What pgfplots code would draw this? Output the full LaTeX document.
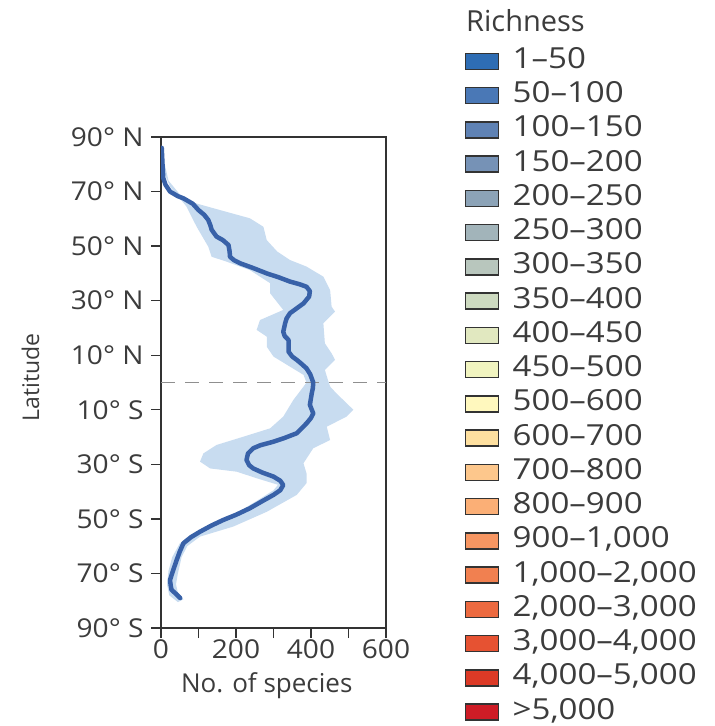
\documentclass[border=0pt]{standalone}
\usepackage{pgfplots}
\pgfplotsset{compat=1.18}
\usepackage{fontspec}
\setmainfont{Open Sans}
\newfontfamily\widefont[FakeStretch=1.14]{Open Sans}
\newfontfamily\tickfont[FakeStretch=1.08]{Open Sans}
\definecolor{txt}{HTML}{3C3C3C}
\definecolor{axc}{HTML}{333333}
\definecolor{lineblue}{HTML}{3861A8}
\definecolor{band}{HTML}{C8DCF0}
\definecolor{c1}{HTML}{2E6DB4}
\definecolor{c2}{HTML}{4A78B6}
\definecolor{c3}{HTML}{5F82B4}
\definecolor{c4}{HTML}{7692B6}
\definecolor{c5}{HTML}{8CA3B7}
\definecolor{c6}{HTML}{A2B4BA}
\definecolor{c7}{HTML}{B8C6BD}
\definecolor{c8}{HTML}{CDDAC0}
\definecolor{c9}{HTML}{E1E8C0}
\definecolor{c10}{HTML}{F1F4C0}
\definecolor{c11}{HTML}{FFF8BE}
\definecolor{c12}{HTML}{FEE0A0}
\definecolor{c13}{HTML}{FDC78C}
\definecolor{c14}{HTML}{FBAF76}
\definecolor{c15}{HTML}{F79662}
\definecolor{c16}{HTML}{F18050}
\definecolor{c17}{HTML}{EC6A40}
\definecolor{c18}{HTML}{E65232}
\definecolor{c19}{HTML}{DC3A26}
\definecolor{c20}{HTML}{CE1C26}
\begin{document}
\begin{tikzpicture}
\useasboundingbox (0,0) rectangle (715bp,-726bp);
\begin{axis}[
  at={(161bp,-628bp)}, anchor=south west,
  scale only axis, width=225bp, height=491bp,
  xmin=0, xmax=600, ymin=-90, ymax=90,
  xtick={0,100,...,600}, xticklabels={0,,200,,400,,600},
  ytick={-90,-70,-50,-30,-10,10,30,50,70,90},
  yticklabels={90° S,70° S,50° S,30° S,10° S,10° N,30° N,50° N,70° N,90° N},
  tick align=outside, xtick pos=bottom, ytick pos=left,
  major tick length=10bp,
  every tick/.style={axc, line width=1.3bp},
  axis line style={axc, line width=1.3bp},
  tick label style={font=\tickfont\fontsize{26bp}{30bp}\selectfont, text=txt},
  yticklabel style={xshift=-4bp},
  xticklabel style={yshift=2bp},
  /pgf/number format/assume math mode=true,
  xlabel={No. of species}, ylabel={Latitude},
  label style={font=\fontsize{26bp}{30bp}\selectfont, text=txt},
  xlabel style={at={(axis description cs:0.47,0)}, anchor=base, yshift=-64bp},
  ylabel style={at={(axis description cs:-0.58,0.511)}, anchor=center, font=\fontsize{23bp}{28bp}\selectfont},
]
\addplot[draw=none, fill=band] coordinates {
(3,87) (10,80) (20,74) (50,69) (77,66.3) (150,63.5) (237,60.2) (273,57.1)
(282,52.2) (310,48) (344,44.9) (388,42.5) (433,38.8) (451,33.9) (455,27.8)
(464,26) (433,21.7) (437,14.4) (455,10.7) (464,8.3) (437,4.6) (445,1)
(451,-1.5) (468,-4) (513,-10) (495,-12.5) (442,-16.2) (451,-21.1) (406,-24.1)
(380,-29.6) (388,-33.3) (388,-36.9) (362,-41.2) (282,-47.4) (193,-52.8)
(104,-56.5) (70,-60) (55,-64) (45,-70) (40,-74) (45,-77) (60,-79.5)
(45,-80.5) (22,-78) (16,-74) (20,-69) (30,-64) (50,-59) (75,-56.5) (100,-55)
(150,-51) (200,-48) (260,-43) (300,-39.5) (312,-37.5) (255,-35.1) (202,-32.7)
(131,-31.5) (104,-29) (113,-26) (148,-22.9) (219,-19.9) (291,-16.8)
(326,-12.5) (353,-6.4) (380,-1.5) (388,0) (380,2.8) (344,5.8) (300,9.5)
(282,13.1) (282,16.8) (255,19.3) (264,22.9) (326,26.6) (291,32.7) (291,36.4)
(237,41.2) (175,44.3) (135,46.1) (126,49.8) (95,57.1) (68,64.5) (24,71.8)
(5,78) (1,86)
} -- cycle;
\addplot[axc!55, dash pattern=on 14bp off 10bp, line width=1.3bp] coordinates {(0,0) (600,0)};
\addplot[lineblue, line width=4.5bp, line join=round, line cap=round] coordinates {
(2,86) (4,80) (6,75) (12,72.5) (24,70) (45,68.3) (60,67.5) (85,65.5)
(100,63.2) (115,61.5) (126,59.6) (132,57.5) (135,56) (148,53.5) (165,52.2)
(180,50.4) (183,48) (184,46.1) (195,44.8) (211,43.7) (245,42) (282,40)
(315,38.5) (344,37) (370,36) (388,35.1) (397,33.5) (395,31.5) (380,29)
(360,27) (344,25.4) (335,23.5) (331,21.7) (326,18.6) (330,17) (340,15.6)
(340,11.3) (350,9.5) (362,8.3) (375,6.8) (388,5.2) (398,3) (406,0)
(405,-2) (402,-4) (397,-8.2) (406,-11.3) (400,-13) (388,-15) (362,-18.6)
(330,-20.3) (300,-21.7) (265,-23) (246,-24.1) (232,-26) (228,-28.4)
(235,-30.3) (246,-31.5) (270,-33) (300,-34.5) (318,-36) (326,-37.6)
(318,-39.5) (300,-41.2) (270,-43.5) (237,-46.1) (200,-48.5) (166,-50.4)
(135,-52.4) (104,-54.7) (80,-56.7) (60,-58.9) (50,-62) (42,-65) (32,-69)
(24,-72.4) (26,-74.5) (28,-76) (40,-77.5) (51,-79)
};
\end{axis}
\begin{scope}[x=1bp,y=1bp]
\node[anchor=base west, inner sep=0pt, text=txt, font=\fontsize{29bp}{34bp}\selectfont] at (466,-31.7) {Richness};
\foreach \c/\l [count=\i] in {c1/{1–50},c2/{50–100},c3/{100–150},c4/{150–200},c5/{200–250},c6/{250–300},c7/{300–350},c8/{350–400},c9/{400–450},c10/{450–500},c11/{500–600},c12/{600–700},c13/{700–800},c14/{800–900},c15/{900–1,000},c16/{1,000–2,000},c17/{2,000–3,000},c18/{3,000–4,000},c19/{4,000–5,000},c20/{>5,000}}{
  \pgfmathsetmacro\cy{-61.3-34.25*(\i-1)}
  \draw[fill=\c, draw=axc, line width=1.5] (465.5,\cy+8) rectangle (498.5,\cy-8);
  \node[anchor=base west, inner sep=0pt, text=txt, font=\widefont\fontsize{29bp}{34bp}\selectfont] at (512.5,\cy-7) {\l};
}
\end{scope}
\end{tikzpicture}
\end{document}
